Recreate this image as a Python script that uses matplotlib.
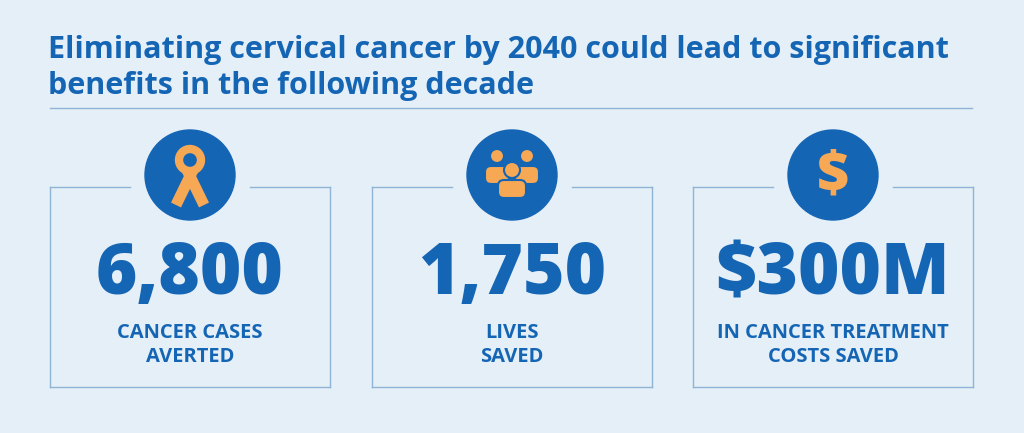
import matplotlib
matplotlib.use("Agg")
import matplotlib.pyplot as plt
from matplotlib.patches import Circle, FancyBboxPatch

title_lines = ["Eliminating cervical cancer by 2040 could lead to significant",
               "benefits in the following decade"]
values = ["6,800", "1,750", "$300M"]
labels = [["CANCER CASES", "AVERTED"], ["LIVES", "SAVED"], ["IN CANCER TREATMENT", "COSTS SAVED"]]
icons = ["ribbon", "people", "dollar"]

BG = "#e5eff7"; BLUE = "#1565b5"; ORANGE = "#f6a855"; LINE = "#8fb4d6"
fig = plt.figure(figsize=(10.24, 4.33), dpi=100, facecolor=BG)
ax = fig.add_axes([0, 0, 1, 1]); ax.set_xlim(0, 1024); ax.set_ylim(433, 0); ax.axis("off")

for i, t in enumerate(title_lines):
    ax.text(48, 50 + 36 * i, t, color=BLUE, fontsize=22, fontweight="bold", family="Open Sans", va="center")
ax.plot([50, 972], [108, 108], color=LINE, lw=1)

lefts = [50, 372, 693]; w = 280
for k, x0 in enumerate(lefts):
    cx = x0 + w / 2
    top, bot = 187, 387
    kw = dict(color=LINE, lw=1)
    ax.plot([x0, x0 + 80], [top, top], **kw)
    ax.plot([x0 + w - 80, x0 + w], [top, top], **kw)
    ax.plot([x0, x0], [top, bot], **kw); ax.plot([x0 + w, x0 + w], [top, bot], **kw)
    ax.plot([x0, x0 + w], [bot, bot], **kw)
    ax.add_patch(Circle((cx, 175), 45, color=BLUE, zorder=3))
    if icons[k] == "ribbon":
        ax.plot([cx - 14, cx + 3], [205, 170], color=ORANGE, lw=8, solid_capstyle="butt", zorder=4)
        ax.plot([cx + 14, cx - 3], [205, 170], color=ORANGE, lw=8, solid_capstyle="butt", zorder=4)
        ax.add_patch(Circle((cx, 160), 11, fill=False, ec=ORANGE, lw=6, zorder=4))
    elif icons[k] == "people":
        for dx, hy, r, bw, z in [(-15, 156, 7, 24, 4), (15, 156, 7, 24, 4), (0, 170, 8, 28, 6)]:
            hx = cx + dx
            ax.add_patch(FancyBboxPatch((hx - bw / 2, hy + 10), bw, 18, boxstyle="round,pad=0,rounding_size=6",
                                        fc=ORANGE, ec=BLUE, lw=1.5, zorder=z))
            ax.add_patch(Circle((hx, hy), r, fc=ORANGE, ec=BLUE, lw=1.5, zorder=z + 1))
    else:
        ax.text(cx, 177, "$", color=ORANGE, fontsize=40, fontweight="heavy", family="Open Sans",
                ha="center", va="center", zorder=4)
    ax.text(cx, 276, values[k], color=BLUE, fontsize=51, fontweight="heavy", family="Open Sans",
            ha="center", va="center")
    for j, l in enumerate(labels[k]):
        ax.text(cx, 333 + 24 * j, l, color=BLUE, fontsize=14.5, fontweight="bold", family="Open Sans",
                ha="center", va="center")

fig.savefig("out.png", dpi=100, facecolor=BG)
